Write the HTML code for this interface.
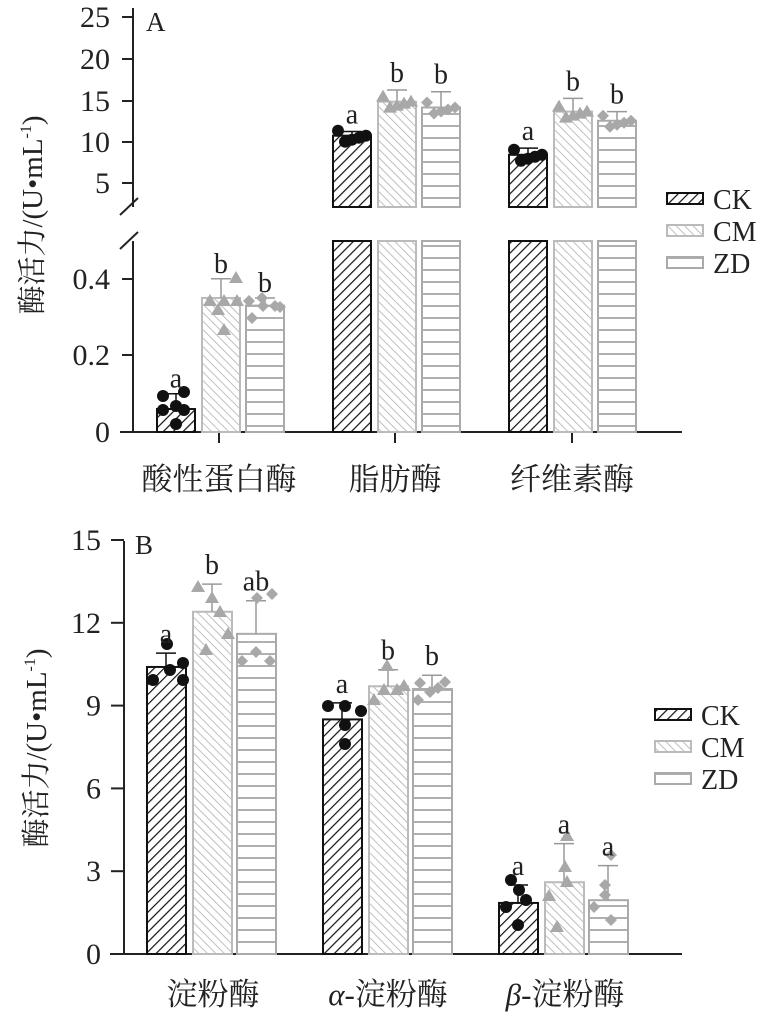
<!DOCTYPE html>
<html><head><meta charset="utf-8"><style>
html,body{margin:0;padding:0;background:#fff;}
svg text{font-family:"Liberation Serif","Noto Serif CJK SC",serif;}
</style></head><body>
<svg id="s" width="769" height="1014" viewBox="0 0 769 1014" xmlns="http://www.w3.org/2000/svg">
<defs>
<pattern id="pCK" patternUnits="userSpaceOnUse" width="7" height="7" patternTransform="rotate(45)"><rect width="7" height="7" fill="#fff"/><line x1="0" y1="0" x2="0" y2="7" stroke="#111" stroke-width="2.4"/></pattern>
<pattern id="pCM" patternUnits="userSpaceOnUse" width="6" height="6" patternTransform="rotate(-45)"><rect width="6" height="6" fill="#fff"/><line x1="0" y1="0" x2="0" y2="6" stroke="#b0b0b0" stroke-width="1.6"/></pattern>
<pattern id="pZD" patternUnits="userSpaceOnUse" width="10" height="12"><rect width="10" height="12" fill="#fff"/><line x1="0" y1="6" x2="10" y2="6" stroke="#a8a8a8" stroke-width="1.8"/></pattern>
</defs>
<g id="g"></g>
</svg>
<script>
var g=document.getElementById('g'),out='';
function R(x,y,w,h,f,st,sw){out+='<rect x="'+x+'" y="'+y+'" width="'+w+'" height="'+h+'" fill="'+f+'" stroke="'+st+'" stroke-width="'+(sw||2)+'"/>';}
function L(x1,y1,x2,y2,c,w){out+='<line x1="'+x1+'" y1="'+y1+'" x2="'+x2+'" y2="'+y2+'" stroke="'+(c||'#222')+'" stroke-width="'+(w||2)+'"/>';}
function T(x,y,t,s,a,extra){out+='<text x="'+x+'" y="'+y+'" font-size="'+s+'" text-anchor="'+(a||'middle')+'" fill="#222" '+(extra||'')+'>'+t+'</text>';}
function M(type,x,y){
 if(type==0)out+='<circle cx="'+x+'" cy="'+y+'" r="6" fill="#111"/>';
 else if(type==1)out+='<polygon points="'+x+','+(y-7)+' '+(x+7)+','+(y+5)+' '+(x-7)+','+(y+5)+'" fill="#a8a8a8"/>';
 else out+='<polygon points="'+x+','+(y-6)+' '+(x+6)+','+y+' '+x+','+(y+6)+' '+(x-6)+','+y+'" fill="#a8a8a8"/>';
}
var fills=['url(#pCK)','url(#pCM)','url(#pZD)'],strokes=['#111','#bbb','#aaa'];
var TK=30,CAT=31,LET=28;
// ===== Panel A =====
var ax=133,by=432;
L(ax,8,ax,207);L(ax,241,ax,by);L(120,by,682,by);
[[25,17],[20,59],[15,101],[10,142],[5,183]].forEach(function(t){L(122,t[1],ax,t[1]);T(110,t[1]+10,t[0],TK,'end');});
[['0',432],['0.2',355],['0.4',279]].forEach(function(t){L(122,t[1],ax,t[1]);T(110,t[1]+10,t[0],TK,'end');});
L(120,215,138,198,'#222',2);L(120,249,138,232,'#222',2);
T(146,31,'A',27,'start');
[219,395,572].forEach(function(x){L(x,by,x,443);});
T(219,490,'酸性蛋白酶',CAT);T(395,490,'脂肪酶',CAT);T(572,490,'纤维素酶',CAT);
function ylab(cx,cy){out+='<text transform="translate('+cx+','+cy+') rotate(-90)" font-size="29" text-anchor="middle" fill="#222">酶活力/(U•mL<tspan font-size="16" dy="-11">-1</tspan><tspan dy="11">)</tspan></text>';}
ylab(42,215);
function yTop(v){return 224.5-8.3*v;}
function yLow(v){return 432-383*v;}
var g1=[[0.06,0.1,'a',[[163,396],[184,392],[176,406],[163,410],[184,410],[176,424]]],[0.35,0.40,'b',[[210,301],[224,301],[237,301],[218,310],[236,278],[224,330]]],[0.33,0.35,'b',[[249,301],[262,298],[275,306],[263,306],[252,318],[280,307]]]];
var xs=[157,202,246];
g1.forEach(function(d,i){var y=yLow(d[0]);R(xs[i],y,38,by-y,fills[i],strokes[i]);var ye=yLow(d[1]);L(xs[i]+19,y,xs[i]+19,ye,i?'#999':'#111',1.5);L(xs[i]+9,ye,xs[i]+29,ye,i?'#999':'#111',1.5);d[3].forEach(function(p){M(i,p[0],p[1]);});T(xs[i]+19,ye-6,d[2],LET);});
var gd=[[[10.7,11.2,'a'],[14.8,16.2,'b'],[14.1,16.0,'b']],[[8.4,9.2,'a'],[13.6,15.2,'b'],[12.5,13.6,'b']]];
gd.forEach(function(gr,k){var off=176*(k+1);gr.forEach(function(d,i){var x=xs[i]+off,y=yTop(d[0]);
 R(x,y,38,207-y,fills[i],strokes[i]);R(x,241,38,by-241,fills[i],strokes[i]);
 out+='<rect x="'+(x-2)+'" y="208" width="42" height="32" fill="#fff"/>';
 var ye=yTop(d[1]);var c=i?'#999':'#111';L(x+19,y,x+19,ye,c,1.5);L(x+9,ye,x+29,ye,c,1.5);
 for(var j=0;j<5;j++){M(i,x+5+j*7,y+((j*37)%13)-5);}
 T(x+19,ye-8,d[2],LET);});});
function leg(x,y){['CK','CM','ZD'].forEach(function(n,i){var yy=y+i*32;R(x,yy,36,11,fills[i],strokes[i],2);T(x+46,yy+16,n,28,'start');});}
leg(667,193);
// ===== Panel B =====
var bx=124,bb=954;function yb(v){return 954-27.6*v;}
L(bx,541,bx,bb);L(110,bb,682,bb);
[0,3,6,9,12,15].forEach(function(v){var y=yb(v);L(111,y,bx,y);T(101,y+10,v,TK,'end');});
T(135,554,'B',27,'start');
ylab(46,748);
T(213,1005,'淀粉酶',CAT);
out+='<text x="388" y="1005" font-size="'+CAT+'" text-anchor="middle" fill="#222"><tspan font-style="italic">α</tspan>-淀粉酶</text>';
out+='<text x="565" y="1005" font-size="'+CAT+'" text-anchor="middle" fill="#222"><tspan font-style="italic">β</tspan>-淀粉酶</text>';
var bd=[[[10.4,10.9,'a'],[12.4,13.4,'b'],[11.6,12.8,'ab']],[[8.5,9.1,'a'],[9.7,10.3,'b'],[9.6,10.1,'b']],[[1.85,2.5,'a'],[2.6,4.0,'a'],[1.95,3.2,'a']]];
var bxs=[147,193,237];
var pts=[[[[167,644],[153,680],[170,670],[183,663],[183,680]],[[198,587],[212,598],[220,612],[206,650],[228,634]],[[242,661],[256,652],[270,661],[257,598],[272,594]]],
[[[328,706],[345,706],[361,711],[345,725],[345,744]],[[374,700],[384,690],[397,690],[387,666],[404,686]],[[418,700],[430,692],[438,688],[445,682],[420,683]]],
[[[506,907],[519,890],[526,900],[518,925],[511,880]],[[549,896],[567,882],[565,867],[557,927],[567,836]],[[594,907],[605,895],[605,885],[611,855],[611,920]]]];
bd.forEach(function(gr,k){var off=176*k;gr.forEach(function(d,i){var x=bxs[i]+off,y=yb(d[0]);R(x,y,39,bb-y,fills[i],strokes[i]);
 var ye=yb(d[1]);var c=i?'#999':'#111';L(x+19,y,x+19,ye,c,1.5);L(x+9,ye,x+29,ye,c,1.5);
 pts[k][i].forEach(function(p){M(i,p[0],p[1]);});T(x+19,ye-10,d[2],LET);});});
leg(655,709);
g.innerHTML=out;
</script>
</body></html>
